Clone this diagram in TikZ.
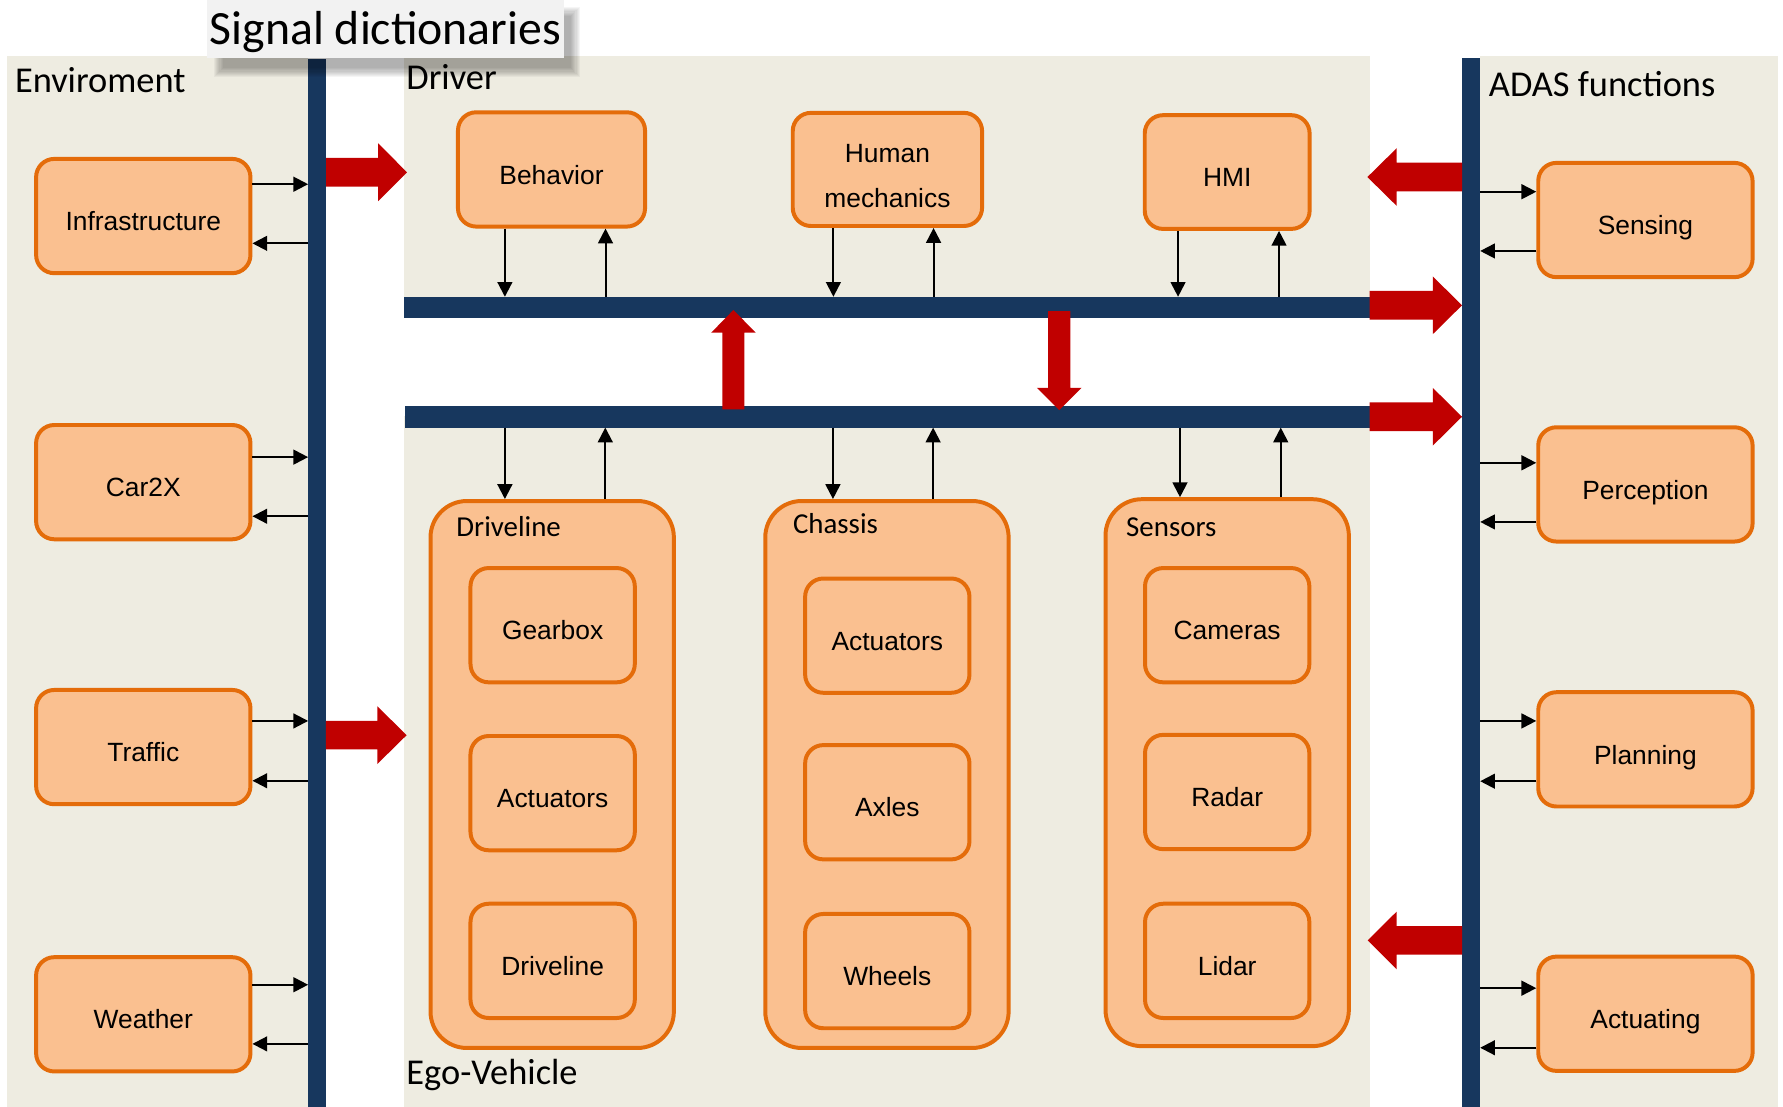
\documentclass[tikz,border=0pt]{standalone}
\usepackage{fontspec}
\setmainfont{Liberation Sans}
\newfontfamily\calib{Carlito}
\usetikzlibrary{arrows.meta}
\definecolor{beige}{HTML}{EEECE1}
\definecolor{navy}{HTML}{17375E}
\definecolor{peach}{HTML}{FAC090}
\definecolor{orng}{HTML}{E46C0A}
\definecolor{darkred}{HTML}{C00000}
\definecolor{sigfill}{HTML}{F2F2F2}
\newcommand\redH[4]{% tail x, head base x, tip x, y
  \fill[darkred] (#1,#4-12.6) -- (#2,#4-12.6) -- (#2,#4-25.4) -- (#3,#4) -- (#2,#4+25.4) -- (#2,#4+12.6) -- (#1,#4+12.6) -- cycle;}
\newcommand\redV[4]{% x, tail y, head base y, tip y
  \fill[darkred] (#1-9.7,#2) -- (#1-9.7,#3) -- (#1-19.6,#3) -- (#1,#4) -- (#1+19.6,#3) -- (#1+9.7,#3) -- (#1+9.7,#2) -- cycle;}
\begin{document}
\begin{tikzpicture}[x=0.5pt,y=-0.5pt,
  bus/.style={fill=navy, inner sep=0pt, outer sep=0pt, anchor=north west},
  box/.style={draw=orng, fill=peach, line width=1.75pt, rounded corners=8pt, align=center, inner sep=0pt, font=\fontsize{11.6}{19.4}\selectfont},
  oneline/.style={text height=15.35pt, text depth=2.45pt},
  sidebox/.style={box, oneline, minimum width=94.25pt, minimum height=50.25pt},
  innerbox/.style={box, oneline, minimum width=72.25pt, minimum height=50.25pt},
  group/.style={draw=orng, fill=peach, line width=1.75pt, rounded corners=16pt, minimum width=107pt, minimum height=240.5pt, inner sep=0pt},
  grouplabel/.style={anchor=base west, inner sep=0pt, font=\calib\fontsize{12.7}{15}\selectfont},
  paneltitle/.style={anchor=base west, inner sep=0pt, font=\calib\fontsize{16}{19}\selectfont},
  arr/.style={-{Triangle[length=6.5pt,width=6.5pt]}, line width=0.9pt}
]
\useasboundingbox (0,0) rectangle (1568,973.5);
% panels
\fill[beige] (6,49) rectangle (271,973.5);
\fill[beige] (355.6,49) rectangle (1204.5,270);
\fill[beige] (355.6,366) rectangle (1204.5,973.5);
\fill[beige] (1301.6,49) rectangle (1563.6,973.5);
% buses
\node[bus, minimum width=7.75pt, minimum height=460.75pt] (lbus) at (271,52) {};
\node[bus, minimum width=8pt, minimum height=461.1pt] (rbus) at (1285.7,51.3) {};
\node[bus, minimum width=424.45pt, minimum height=9.2pt] (ubus) at (355.6,261) {};
\node[bus, minimum width=424.25pt, minimum height=9.5pt] (dbus) at (356,357) {};
% signal dictionaries box with shadow
\foreach \k in {0,...,8} {\fill[black, opacity=0.04] (196-\k,14-\k) rectangle (502+\k,60+\k);}
\fill[sigfill] (182,0) rectangle (496,51);
\node[anchor=base, inner sep=0pt, font=\calib\fontsize{21}{25}\selectfont] (sig) at (339,38.7) {Signal dictionaries};
% panel titles
\node[paneltitle] (tenv) at (12.8,81.5) {Enviroment};
\node[paneltitle] (tdrv) at (357,78.6) {Driver};
\node[paneltitle] (tadas) at (1309,85) {ADAS functions};
\node[paneltitle] (tego) at (357,953.3) {Ego-Vehicle};
% left boxes
\node[sidebox] (infra) at (126,190) {Infrastructure};
\node[sidebox] (car2x) at (126,424) {Car2X};
\node[sidebox] (traffic) at (126,657) {Traffic};
\node[sidebox] (weather) at (126,892) {Weather};
% right boxes
\node[sidebox] (sens) at (1447,193.5) {Sensing};
\node[sidebox] (perc) at (1447,426) {Perception};
\node[sidebox] (plan) at (1447,659) {Planning};
\node[sidebox] (act) at (1447,891.5) {Actuating};
% driver boxes
\node[box, oneline, minimum width=82.25pt, minimum height=50.25pt] (beh) at (485,149) {Behavior};
\node[box, minimum width=83.25pt, minimum height=49.75pt] (hum) at (780.4,149) {\rule{0pt}{13.8pt}Human\\mechanics};
\node[box, oneline, minimum width=72.5pt, minimum height=50pt] (hmi) at (1079.2,151.3) {HMI};
% groups
\node[group] (gdrv) at (485.6,681.1) {};
\node[group] (gchs) at (780,681.1) {};
\node[group] (gsen) at (1079.2,679.5) {};
\node[grouplabel] (ldrv) at (401,471.4) {Driveline};
\node[grouplabel] (lchs) at (697,469) {Chassis};
\node[grouplabel] (lsen) at (990,471.5) {Sensors};
\node[innerbox] (gear) at (486,549.8) {Gearbox};
\node[innerbox] (dact) at (486,697.5) {Actuators};
\node[innerbox] (ddrv) at (486,845) {Driveline};
\node[innerbox] (cact) at (780.3,559) {Actuators};
\node[innerbox] (axle) at (780.3,705.5) {Axles};
\node[innerbox] (whl) at (780.3,854) {Wheels};
\node[innerbox] (cam) at (1079.2,549.8) {Cameras};
\node[innerbox] (rad) at (1079.2,696.5) {Radar};
\node[innerbox] (lid) at (1079.2,845) {Lidar};
% left black arrows
\draw[arr] ([yshift=14pt]infra.east) -- ([yshift=14pt]infra.east -| lbus.west);
\draw[arr] ([yshift=-12pt]infra.east -| lbus.west) -- ([yshift=-12pt]infra.east);
\draw[arr] ([yshift=11pt]car2x.east) -- ([yshift=11pt]car2x.east -| lbus.west);
\draw[arr] ([yshift=-15pt]car2x.east -| lbus.west) -- ([yshift=-15pt]car2x.east);
\draw[arr] ([yshift=11.5pt]traffic.east) -- ([yshift=11.5pt]traffic.east -| lbus.west);
\draw[arr] ([yshift=-14.8pt]traffic.east -| lbus.west) -- ([yshift=-14.8pt]traffic.east);
\draw[arr] ([yshift=13pt]weather.east) -- ([yshift=13pt]weather.east -| lbus.west);
\draw[arr] ([yshift=-13pt]weather.east -| lbus.west) -- ([yshift=-13pt]weather.east);
% right black arrows
\draw[arr] ([yshift=12.45pt]sens.west -| rbus.east) -- ([yshift=12.45pt]sens.west);
\draw[arr] ([yshift=-13.6pt]sens.west) -- ([yshift=-13.6pt]sens.west -| rbus.east);
\draw[arr] ([yshift=9.5pt]perc.west -| rbus.east) -- ([yshift=9.5pt]perc.west);
\draw[arr] ([yshift=-16.5pt]perc.west) -- ([yshift=-16.5pt]perc.west -| rbus.east);
\draw[arr] ([yshift=12.5pt]plan.west -| rbus.east) -- ([yshift=12.5pt]plan.west);
\draw[arr] ([yshift=-14pt]plan.west) -- ([yshift=-14pt]plan.west -| rbus.east);
\draw[arr] ([yshift=11.25pt]act.west -| rbus.east) -- ([yshift=11.25pt]act.west);
\draw[arr] ([yshift=-14.95pt]act.west) -- ([yshift=-14.95pt]act.west -| rbus.east);
% driver arrows
\draw[arr] ([xshift=-20.5pt]beh.south) -- ([xshift=-20.5pt]beh.south |- ubus.north);
\draw[arr] ([xshift=23.75pt]beh.south |- ubus.north) -- ([xshift=23.75pt]beh.south);
\draw[arr] ([xshift=-23.75pt]hum.south) -- ([xshift=-23.75pt]hum.south |- ubus.north);
\draw[arr] ([xshift=20.3pt]hum.south |- ubus.north) -- ([xshift=20.3pt]hum.south);
\draw[arr] ([xshift=-21.6pt]hmi.south) -- ([xshift=-21.6pt]hmi.south |- ubus.north);
\draw[arr] ([xshift=22.8pt]hmi.south |- ubus.north) -- ([xshift=22.8pt]hmi.south);
% vehicle arrows
\draw[arr] ([xshift=-20.8pt]gdrv.north |- dbus.south) -- ([xshift=-20.8pt]gdrv.north);
\draw[arr] ([xshift=23.35pt]gdrv.north) -- ([xshift=23.35pt]gdrv.north |- dbus.south);
\draw[arr] ([xshift=-23.75pt]gchs.north |- dbus.south) -- ([xshift=-23.75pt]gchs.north);
\draw[arr] ([xshift=20.3pt]gchs.north) -- ([xshift=20.3pt]gchs.north |- dbus.south);
\draw[arr] ([xshift=-20.75pt]gsen.north |- dbus.south) -- ([xshift=-20.75pt]gsen.north);
\draw[arr] ([xshift=23.55pt]gsen.north) -- ([xshift=23.55pt]gsen.north |- dbus.south);
% red arrows
\redH{286.7}{332.6}{357.9}{151.5}
\redH{286.5}{331.8}{357.6}{646.5}
\redH{1285.7}{1228.3}{1202.5}{155.7}
\redH{1204.5}{1260}{1285.7}{268.5}
\redH{1204.5}{1260}{1285.7}{366.5}
\redH{1285.7}{1228.3}{1202.8}{827}
\redV{645}{360}{292.6}{272.6}
\redV{931.5}{273.5}{341}{360.6}
\end{tikzpicture}
\end{document}
